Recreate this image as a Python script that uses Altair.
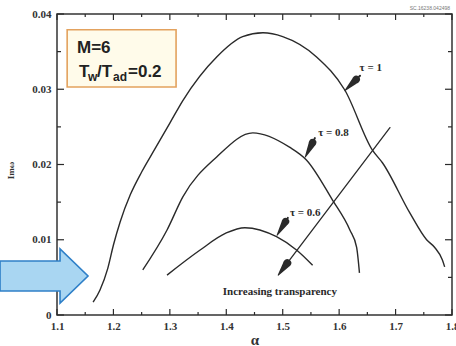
import math
import altair as alt
import pandas as pd

# plot area size in pixels
W, H = 395, 301
X_DOM = [1.1, 1.8]
Y_DOM = [0.0, 0.04]

# growth-rate curves  (alpha, Im(omega))
alpha_tau10 = [1.164, 1.176, 1.190, 1.200, 1.212, 1.230, 1.250, 1.273, 1.300, 1.323, 1.383, 1.429,
               1.465, 1.500, 1.560, 1.610, 1.659, 1.677, 1.725, 1.755, 1.769, 1.783, 1.787]
omega_tau10 = [0.0017, 0.0033, 0.0062, 0.0093, 0.0124, 0.0160, 0.0190, 0.0220, 0.0255, 0.0285,
               0.0343, 0.0370, 0.0375, 0.0370, 0.0343, 0.0299, 0.0219, 0.0202, 0.0136, 0.0100,
               0.0090, 0.0073, 0.0064]

alpha_tau08 = [1.252, 1.295, 1.323, 1.383, 1.447, 1.512, 1.542, 1.588, 1.619, 1.631, 1.636]
omega_tau08 = [0.0060, 0.0113, 0.0157, 0.0210, 0.0242, 0.0223, 0.0206, 0.0153, 0.0113, 0.0090, 0.0056]

alpha_tau06 = [1.295, 1.353, 1.400, 1.433, 1.489, 1.525, 1.553]
omega_tau06 = [0.0053, 0.0086, 0.0109, 0.0116, 0.0104, 0.0086, 0.0066]

# curve labels and their pointer arrows (tail -> tip on the curve)
tau_labels = ["τ = 1", "τ = 0.8", "τ = 0.6"]
label_alpha = [1.656, 1.590, 1.540]
label_omega = [0.0328, 0.0242, 0.0136]
ptr_tail_alpha = [1.637, 1.557, 1.509]
ptr_tail_omega = [0.0318, 0.0235, 0.0129]
ptr_tip_alpha = [1.610, 1.540, 1.490]
ptr_tip_omega = [0.0298, 0.0210, 0.0106]

# long "increasing transparency" arrow
trend_tail = (1.690, 0.0249)
trend_tip = (1.492, 0.0053)
trend_text = "Increasing transparency"
trend_text_pos = (1.495, 0.0031)

# parameter box
box_alpha = [1.118, 1.311]
box_omega = [0.0379, 0.0303]

# big blue pointer on the left, centred at (alpha, omega)
blue_center = (1.077, 0.00518)

x_major = [1.1, 1.2, 1.3, 1.4, 1.5, 1.6, 1.7, 1.8]
x_minor = [1.15, 1.25, 1.35, 1.45, 1.55, 1.65, 1.75]
y_major = [0.0, 0.01, 0.02, 0.03, 0.04]
y_minor = [0.005, 0.015, 0.025, 0.035]

SERIF = "Liberation Serif"
SANS = "Liberation Sans"
INK = "#2a2a2a"

x_axis = alt.Axis(values=x_major, format=".1f", ticks=False, domain=False, grid=False,
                  labelFlush=False, labelOverlap=False, labelBound=False,
                  labelFont=SERIF, labelFontWeight="bold", labelFontSize=11,
                  labelColor="#333", labelPadding=5, title="α", titleFont=SERIF,
                  titleFontSize=15, titleFontWeight="bold", titleColor="#333",
                  titleY=17, titleBaseline="top")
y_axis = alt.Axis(values=y_major, format=".2~f", ticks=False, domain=False, grid=False,
                  labelFlush=False, labelOverlap=False, labelBound=False,
                  labelFont=SERIF, labelFontWeight="bold", labelFontSize=11,
                  labelColor="#333", labelPadding=6, title="Imω", titleFont=SERIF,
                  titleFontSize=9, titleFontWeight="bold", titleColor="#333",
                  titleX=-42, titleY=156)


def X(field="alpha"):
    return alt.X(f"{field}:Q", axis=x_axis,
                 scale=alt.Scale(domain=X_DOM, nice=False, zero=False, padding=0))


def Y(field="omega"):
    return alt.Y(f"{field}:Q", axis=y_axis,
                 scale=alt.Scale(domain=Y_DOM, nice=False, zero=False, padding=0))


# curves
rows = []
for name, xs, ys in [("1", alpha_tau10, omega_tau10),
                     ("0.8", alpha_tau08, omega_tau08),
                     ("0.6", alpha_tau06, omega_tau06)]:
    for i, (a, o) in enumerate(zip(xs, ys)):
        rows.append({"tau": name, "alpha": a, "omega": o, "i": i})
curves = alt.Chart(pd.DataFrame(rows)).mark_line(
    color=INK, strokeWidth=1.4, interpolate="monotone"
).encode(x=X(), y=Y(), detail="tau:N", order="i:Q")

# pixels per data unit, used to turn pixel lengths into data offsets
sx = W / (X_DOM[1] - X_DOM[0])
sy = H / (Y_DOM[1] - Y_DOM[0])


# arrows drawn as trails: thin shaft then a wedge that narrows to the tip
def arrow_rows(key, tail, tip, shaft, head_len, head_w):
    dx = (tip[0] - tail[0]) * sx
    dy = (tip[1] - tail[1]) * sy
    L = math.hypot(dx, dy)
    ux, uy = dx / L, dy / L
    head_len = min(head_len, L)
    pts = [(tail, shaft)]
    for back, w in [(head_len + 0.6, shaft), (head_len, head_w), (0.0, 0.0)]:
        pts.append(((tip[0] - ux * back / sx, tip[1] - uy * back / sy), w))
    return [{"arrow": key, "alpha": p[0], "omega": p[1], "w": w, "k": k}
            for k, (p, w) in enumerate(pts)]


arrows = []
for j in range(3):
    arrows += arrow_rows(f"p{j}", (ptr_tail_alpha[j], ptr_tail_omega[j]),
                         (ptr_tip_alpha[j], ptr_tip_omega[j]), 2.0, 16, 7.5)
arrows += arrow_rows("trend", trend_tail, trend_tip, 1.3, 15, 8)
arrow_layer = alt.Chart(pd.DataFrame(arrows)).mark_trail(color=INK).encode(
    x=X(), y=Y(), detail="arrow:N", order="k:Q",
    size=alt.Size("w:Q", scale=None, legend=None)
)

labels = alt.Chart(pd.DataFrame({"alpha": label_alpha, "omega": label_omega,
                                 "t": tau_labels})).mark_text(
    font=SERIF, fontWeight="bold", fontSize=11, color=INK, align="center"
).encode(x=X(), y=Y(), text="t:N")

trend_label = alt.Chart(pd.DataFrame({"alpha": [trend_text_pos[0]],
                                      "omega": [trend_text_pos[1]],
                                      "t": [trend_text]})).mark_text(
    font=SERIF, fontWeight="bold", fontSize=11, color=INK, align="center"
).encode(x=X(), y=Y(), text="t:N")

box = alt.Chart(pd.DataFrame({"alpha": [box_alpha[0]], "alpha2": [box_alpha[1]],
                              "omega": [box_omega[0]], "omega2": [box_omega[1]]})).mark_rect(
    fill="#fffbea", stroke="#e3a25e", strokeWidth=1.6
).encode(x=X(), x2="alpha2:Q", y=Y(), y2="omega2:Q")

# parameter text, with subscripts set as separate pieces
box_pieces = [("M=6", 20, 34, 17), ("T", 22, 58, 17), ("w", 31, 63, 12),
              ("/T", 40, 58, 17), ("ad", 56, 63, 12), ("=0.2", 71, 58, 17)]
box_text = [
    alt.Chart(pd.DataFrame({"t": [t]})).mark_text(
        font=SANS, fontWeight="bold", fontSize=fs, color="#222",
        align="left", baseline="middle"
    ).encode(x=alt.value(px), y=alt.value(py), text="t:N")
    for t, px, py, fs in box_pieces
]

# block arrow: unit-box path, scaled by the symbol size
BLUE_ARROW = ("M -1 -0.34 L 0.364 -0.34 L 0.364 -0.614 L 1 0 "
              "L 0.364 0.614 L 0.364 0.34 L -1 0.34 Z")
blue = alt.Chart(pd.DataFrame({"alpha": [blue_center[0]],
                               "omega": [blue_center[1]]})).mark_point(
    shape=BLUE_ARROW, size=88 * 88, filled=True, fill="#a9d6f2", fillOpacity=1,
    stroke="#2f80c8", strokeWidth=1.6, opacity=1, clip=False
).encode(x=X(), y=Y())

# inward ticks on all four frame sides, as short two-point segments
tick_rows = []
for vals, length in [(x_major, 6), (x_minor, 3)]:
    for v in vals:
        for side, base, sign in [("b", Y_DOM[0], 1), ("t", Y_DOM[1], -1)]:
            key = f"x{side}{v}"
            tick_rows.append({"k": key, "alpha": v, "omega": base, "i": 0})
            tick_rows.append({"k": key, "alpha": v, "omega": base + sign * length / sy, "i": 1})
for vals, length in [(y_major, 7), (y_minor, 4)]:
    for v in vals:
        for side, base, sign in [("l", X_DOM[0], 1), ("r", X_DOM[1], -1)]:
            key = f"y{side}{v}"
            tick_rows.append({"k": key, "alpha": base, "omega": v, "i": 0})
            tick_rows.append({"k": key, "alpha": base + sign * length / sx, "omega": v, "i": 1})
ticks = alt.Chart(pd.DataFrame(tick_rows)).mark_line(
    color=INK, strokeWidth=1.2
).encode(x=X(), y=Y(), detail="k:N", order="i:Q")

stamp = alt.Chart(pd.DataFrame({"t": ["SC.16238.042498"]})).mark_text(
    font=SANS, fontSize=5, color="#777", align="right"
).encode(x=alt.value(W - 2), y=alt.value(-6), text="t:N")

chart = alt.layer(
    box, curves, arrow_layer, labels, trend_label, *box_text, ticks, blue, stamp
).properties(
    width=W, height=H,
    padding={"left": 57, "top": 14, "right": 4, "bottom": 31},
    autosize=alt.AutoSizeParams(type="none"),
    background="white",
).configure_view(stroke="#333", strokeWidth=1.5)

chart.save("out.html", embed_options={"renderer": "svg", "actions": False})
